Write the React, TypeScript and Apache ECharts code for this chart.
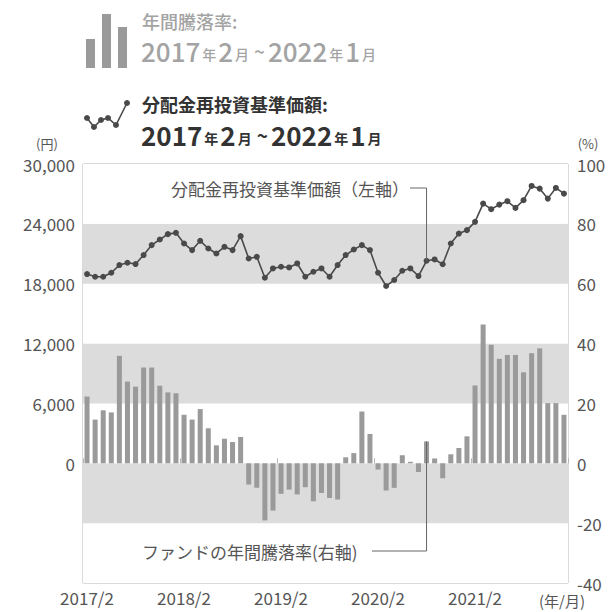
import React, { useEffect, useRef } from "react";
import * as echarts from "echarts";

const FONT = "'Noto Sans CJK JP', 'Noto Sans', sans-serif";

// Categories: 2017/2 ... 2022/1 (monthly)
const months: string[] = [];
for (let y = 2017; y <= 2022; y++) {
  for (let m = 1; m <= 12; m++) {
    if ((y === 2017 && m < 2) || (y === 2022 && m > 1)) continue;
    months.push(`${y}/${m}`);
  }
}

// 分配金再投資基準価額 (円, left axis)
const navValues = [
  18970, 18700, 18700, 19100, 19870, 20100, 19970, 20870, 21870, 22430,
  22970, 23100, 22030, 21370, 22300, 21530, 21030, 21700, 21370, 22770,
  20530, 20700, 18600, 19530, 19700, 19630, 20030, 18700, 19200, 19530,
  18700, 19870, 20870, 21430, 21870, 21370, 19100, 17770, 18370, 19300,
  19530, 18770, 20300, 20430, 19950, 22030, 23030, 23370, 24200, 26030,
  25470, 25930, 26270, 25600, 26370, 27800, 27530, 26530, 27600, 27030,
];

// ファンドの年間騰落率 (%, right axis)
const returnValues = [
  22.3, 14.6, 17.7, 17, 35.9, 27.3, 25.6, 32, 32, 25.9,
  23.7, 23.4, 16.2, 14.6, 18.1, 11.7, 6, 8.2, 7.1, 8.8,
  -7.1, -8.2, -19.1, -15.8, -10.2, -8.8, -10.4, -8, -12.7, -9.9,
  -11.6, -12.1, 2, 3.4, 17.3, 9.8, -2.1, -9.1, -8.2, 2.7,
  0.5, -2.9, 7.3, 1.6, -5, 3, 5.1, 9, 26, 46.4,
  39.6, 34.9, 36.2, 36.2, 30.4, 36.8, 38.4, 20.1, 20.1, 16.2,
];

const leftTicks = { min: -12000, max: 30000, interval: 6000 };
const rightTicks = { min: -40, max: 100, interval: 20 };

const annotationIndex = 42;

export default function App() {
  const ref = useRef<HTMLDivElement>(null);
  useEffect(() => {
    document.body.style.margin = "0";
    const chart = echarts.init(ref.current!, null, { renderer: "svg" });
    const dateRich = (color: string, weight: string) => ({
      a: { fontSize: 26, fill: color, fontWeight: weight, fontFamily: FONT },
      b: { fontSize: 14, fill: color, fontWeight: weight, fontFamily: FONT, padding: [7, 2, 0, 2] },
      c: { fontSize: 19, fill: color, fontWeight: weight, fontFamily: FONT, padding: [0, 3, 0, 3] },
    });
    const dateText = "{a|2017}{b|年}{a|2}{b|月}{c|~}{a|2022}{b|年}{a|1}{b|月}";
    const barGray = "#9a9a9a";
    const lineDark = "#4a4a4a";
    const legendGray = "#a3a3a3";

    chart.setOption({
      animation: false,
      textStyle: { fontFamily: FONT },
      grid: {
        left: 83,
        right: 43,
        top: 164,
        bottom: 29,
        show: true,
        borderColor: "#b5b5b5",
        borderWidth: 1,
        backgroundColor: "transparent",
      },
      xAxis: {
        type: "category",
        data: months,
        boundaryGap: true,
        axisLine: { show: false },
        axisTick: { show: true, interval: 11, inside: true, length: 5, lineStyle: { color: "#b5b5b5" } },
        axisLabel: {
          interval: 11,
          color: "#555",
          fontSize: 17,
          margin: 5,
          lineHeight: 18,
          fontFamily: FONT,
        },
        splitLine: { show: false },
      },
      yAxis: [
        {
          type: "value",
          ...leftTicks,
          axisLine: { show: false },
          axisTick: { show: false },
          axisLabel: {
            color: "#555",
            fontSize: 17,
            margin: 8,
            lineHeight: 18,
            fontFamily: FONT,
            formatter: (v: number) => (v < 0 ? "" : v.toLocaleString("en-US")),
          },
          splitLine: { show: false },
          splitArea: { show: true, areaStyle: { color: ["#ffffff", "#dcdcdc"] } },
        },
        {
          type: "value",
          ...rightTicks,
          position: "right",
          axisLine: { show: false },
          axisTick: { show: false },
          axisLabel: { color: "#555", fontSize: 17, margin: 9, lineHeight: 18, fontFamily: FONT },
          splitLine: { show: false },
        },
      ],
      series: [
        {
          name: "ファンドの年間騰落率",
          type: "bar",
          yAxisIndex: 1,
          data: returnValues,
          barWidth: "62%",
          itemStyle: { color: barGray },
          z: 2,
        },
        {
          name: "分配金再投資基準価額",
          type: "line",
          yAxisIndex: 0,
          data: navValues,
          symbol: "circle",
          symbolSize: 6,
          showAllSymbol: true,
          lineStyle: { color: lineDark, width: 1.6 },
          itemStyle: { color: lineDark },
          z: 3,
        },
      ],
    });

    const p1 = chart.convertToPixel({ xAxisIndex: 0, yAxisIndex: 0 }, [annotationIndex, navValues[annotationIndex]]) as number[];
    const p2 = chart.convertToPixel({ xAxisIndex: 0, yAxisIndex: 1 }, [annotationIndex, returnValues[annotationIndex]]) as number[];
    const topY = 188;
    const botY = 551;
    const iconPts = [[87, 118], [94, 127], [101, 120], [108, 118], [116, 125], [127, 103]];

    chart.setOption({
      graphic: [
        // legend: bar icon
        { type: "rect", shape: { x: 86, y: 39, width: 9, height: 29 }, style: { fill: barGray } },
        { type: "rect", shape: { x: 102, y: 14, width: 9, height: 54 }, style: { fill: barGray } },
        { type: "rect", shape: { x: 118, y: 27, width: 9, height: 41 }, style: { fill: barGray } },
        {
          type: "text", x: 142, y: 21,
          style: { text: "年間騰落率:", fontSize: 18, fill: legendGray, fontFamily: FONT, verticalAlign: "middle", fontWeight: 500 },
        },
        {
          type: "text", x: 141, y: 50,
          style: { text: dateText, rich: dateRich(legendGray, "500"), verticalAlign: "middle" },
        },
        // legend: line icon
        {
          type: "polyline",
          shape: { points: iconPts },
          style: { stroke: lineDark, lineWidth: 1.6, fill: "none" },
        },
        ...iconPts.map((p) => ({
          type: "circle", shape: { cx: p[0], cy: p[1], r: 3 }, style: { fill: lineDark },
        })),
        {
          type: "text", x: 142, y: 104,
          style: { text: "分配金再投資基準価額:", fontSize: 18, fill: "#333", fontFamily: FONT, verticalAlign: "middle", fontWeight: "bold" },
        },
        {
          type: "text", x: 141, y: 134,
          style: { text: dateText, rich: dateRich("#333", "bold"), verticalAlign: "middle" },
        },
        // axis units
        { type: "text", x: 47, y: 143, style: { text: "(円)", fontSize: 13, fill: "#555", fontFamily: FONT, align: "center", verticalAlign: "middle" } },
        { type: "text", x: 588, y: 143, style: { text: "(%)", fontSize: 13, fill: "#555", fontFamily: FONT, align: "center", verticalAlign: "middle" } },
        { type: "text", x: 562, y: 600, style: { text: "(年/月)", fontSize: 15, fill: "#555", fontFamily: FONT, align: "center", verticalAlign: "middle" } },
        // annotations
        {
          type: "text", x: 409, y: topY,
          style: { text: "分配金再投資基準価額（左軸）", fontSize: 17, fill: "#555", fontFamily: FONT, align: "right", verticalAlign: "middle" },
        },
        {
          type: "polyline", z: 10,
          shape: { points: [[410, topY], [p1[0], topY], [p1[0], p1[1]]] },
          style: { stroke: "#666", lineWidth: 1, fill: "none" },
        },
        {
          type: "text", x: 142, y: botY,
          style: { text: "ファンドの年間騰落率(右軸)", fontSize: 17, fill: "#555", fontFamily: FONT, align: "left", verticalAlign: "middle" },
        },
        {
          type: "polyline", z: 10,
          shape: { points: [[372, botY], [p2[0], botY], [p2[0], p2[1]]] },
          style: { stroke: "#666", lineWidth: 1, fill: "none" },
        },
      ],
    });

    return () => chart.dispose();
  }, []);
  return <div ref={ref} style={{ width: 611, height: 612 }} />;
}
